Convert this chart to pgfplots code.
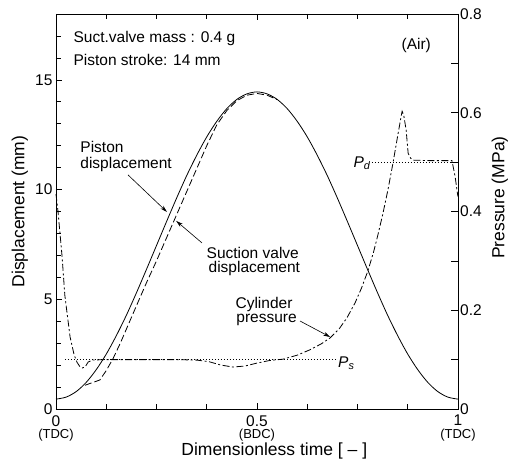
\documentclass[border=0pt]{standalone}
\usepackage{fontspec}
\setmainfont{Liberation Sans}
\usepackage{pgfplots}
\pgfplotsset{compat=1.18}
\usetikzlibrary{arrows.meta}
\newcommand{\fs}[1]{\fontsize{#1}{#1}\selectfont}
\begin{document}
\begin{tikzpicture}
\begin{axis}[
  name=ax1,
  width=402pt, height=395pt, scale only axis,
  xmin=0, xmax=1, ymin=0, ymax=18,
  xtick={0,0.5,1},
  xticklabels={{0\\[-3pt]{\fs{13}(TDC)}},{0.5\\[-3pt]{\fs{13}(BDC)}},{1\\[-3pt]{\fs{13}(TDC)}}},
  xticklabel style={align=center, font=\fs{15.5}, inner sep=0pt, yshift=-6pt},
  minor xtick={0.125,0.25,0.375,0.625,0.75,0.875},
  xtick pos=both,
  ytick={0,5,10,15},
  minor ytick={1,2,3,4,6,7,8,9,11,12,13,14,16,17},
  ytick pos=left,
  yticklabel style={font=\fs{15.5}},
  tick align=inside,
  major tick length=6pt, minor tick length=5pt,
  tick style={black, line width=0.6pt},
  axis line style={line width=0.8pt},
  /pgf/number format/assume math mode=true,
  xlabel={Dimensionless time [ -- ]},
  xlabel style={font=\fs{17.5}, inner sep=0pt, at={(axis description cs:0.543,-0.107)}, anchor=center},
  ylabel={Displacement (mm)},
  ylabel style={font=\fs{17.5}, at={(axis description cs:-0.09,0.5)}, anchor=center},
  clip=false,
]
% Piston displacement
\addplot[black, line width=0.8pt, smooth] coordinates {
(0,0.45) (0.025,0.54) (0.05,0.79) (0.075,1.21) (0.1,1.79) (0.125,2.50)
(0.15,3.34) (0.175,4.27) (0.2,5.29) (0.225,6.36) (0.25,7.45) (0.275,8.54)
(0.3,9.61) (0.325,10.63) (0.35,11.56) (0.375,12.40) (0.4,13.11) (0.425,13.69)
(0.45,14.11) (0.475,14.36) (0.5,14.45) (0.525,14.36) (0.55,14.11) (0.575,13.69)
(0.6,13.11) (0.625,12.40) (0.65,11.56) (0.675,10.63) (0.7,9.61) (0.725,8.54)
(0.75,7.45) (0.775,6.36) (0.8,5.29) (0.825,4.27) (0.85,3.34) (0.875,2.50)
(0.9,1.79) (0.925,1.21) (0.95,0.79) (0.975,0.54) (1,0.45)};
% Suction valve displacement
\addplot[black, line width=0.8pt, dash pattern=on 7pt off 3pt] coordinates {
(0.072,1.08) (0.09,1.2) (0.109,1.32) (0.125,1.75) (0.142,2.3) (0.16,3.0)
(0.18,3.85) (0.2,4.7) (0.225,5.75) (0.25,6.75) (0.275,7.8) (0.3,8.85)
(0.325,9.9) (0.35,10.95) (0.375,12.0) (0.4,12.95) (0.425,13.6) (0.45,14.05)
(0.475,14.3) (0.5,14.38) (0.525,14.3) (0.55,14.1)};
\coordinate (sw) at (rel axis cs:0,0);
% annotations
\node[anchor=base west, font=\fs{15.5}] at (axis cs:0.035,16.7) {Suct.valve mass : 0.4 g};
\node[anchor=base west, font=\fs{15.5}] at (axis cs:0.035,15.66) {Piston stroke: 14 mm};
\node[anchor=base west, font=\fs{15.5}] at (axis cs:0.851,16.36) {(Air)};
\node[anchor=base west, font=\fs{15.5}] at (axis cs:0.052,11.71) {Piston};
\node[anchor=base west, font=\fs{15.5}] at (axis cs:0.052,10.98) {displacement};
\node[anchor=base west, font=\fs{15.5}] at (axis cs:0.366,6.88) {Suction valve};
\node[anchor=base west, font=\fs{15.5}] at (axis cs:0.371,6.24) {displacement};
\node[anchor=base west, font=\fs{15.5}] at (axis cs:0.438,4.56) {Cylinder};
\node[anchor=base west, font=\fs{15.5}] at (axis cs:0.440,3.92) {pressure};
\draw[line width=0.6pt, -{Stealth[length=7pt,width=4pt]}] (axis cs:0.179,10.67) -- (axis cs:0.276,8.98);
\draw[line width=0.6pt, -{Stealth[length=7pt,width=4pt]}] (axis cs:0.363,7.57) -- (axis cs:0.299,8.57);
\draw[line width=0.6pt, -{Stealth[length=7pt,width=4pt]}] (axis cs:0.607,4.01) -- (axis cs:0.682,3.28);
\end{axis}
\begin{axis}[
  width=402pt, height=395pt, scale only axis,
  xmin=0, xmax=1, ymin=0, ymax=0.8,
  hide x axis,
  ytick={0,0.2,0.4,0.6,0.8},
  minor ytick={0.1,0.3,0.5,0.7},
  ytick pos=right,
  yticklabel style={font=\fs{15.5}, inner sep=1pt, xshift=1pt},
  yticklabel={\pgfmathprintnumber[fixed,precision=1]{\tick}},
  tick align=inside,
  major tick length=7pt, minor tick length=7pt,
  tick style={black, line width=0.6pt},
  axis line style={line width=0.8pt},
  /pgf/number format/assume math mode=true,
  ylabel={Pressure (MPa)},
  ylabel style={font=\fs{17.5}, at={(axis description cs:1.104,0.535)}, anchor=center},
  clip=false,
]
% Cylinder pressure
\addplot[black, line width=0.8pt, dash pattern=on 7pt off 2.5pt on 2pt off 2.5pt] coordinates {
(0,0.435) (0.005,0.40) (0.015,0.31) (0.022,0.23) (0.035,0.146) (0.045,0.11)
(0.052,0.095) (0.06,0.085) (0.066,0.083) (0.073,0.086) (0.08,0.095) (0.09,0.099)
(0.12,0.100) (0.2,0.100) (0.3,0.100) (0.35,0.099) (0.38,0.096) (0.41,0.089)
(0.44,0.085) (0.47,0.087) (0.5,0.093) (0.53,0.098) (0.565,0.101) (0.6,0.109)
(0.632,0.12) (0.66,0.132) (0.682,0.144) (0.705,0.163) (0.724,0.185) (0.744,0.215)
(0.76,0.245) (0.776,0.280) (0.79,0.318) (0.80,0.350) (0.813,0.395) (0.826,0.445)
(0.838,0.497) (0.851,0.558) (0.858,0.59) (0.861,0.603) (0.865,0.595) (0.871,0.565)
(0.876,0.518) (0.882,0.508) (0.89,0.504) (0.93,0.503) (0.96,0.503) (0.985,0.503)
(0.993,0.47) (0.998,0.44) (1,0.43)};
% Pd and Ps
\addplot[black, line width=0.6pt, dash pattern=on 1.5pt off 1.5pt] coordinates {(0.786,0.5) (1,0.5)};
\addplot[black, line width=0.6pt, dash pattern=on 1.5pt off 1.5pt] coordinates {(0.022,0.1) (0.694,0.1)};
\node[anchor=base east, font=\fs{15.5}, inner sep=1pt] at (axis cs:0.786,0.49) {\textit{P}\textsubscript{\textit{d}}};
\node[anchor=base west, font=\fs{15.5}, inner sep=1pt] at (axis cs:0.699,0.085) {\textit{P}\textsubscript{\textit{s}}};
\end{axis}
\pgfresetboundingbox
\path (sw) ++(-56pt,-59pt) rectangle ++(512pt,468pt);
\end{tikzpicture}
\end{document}
